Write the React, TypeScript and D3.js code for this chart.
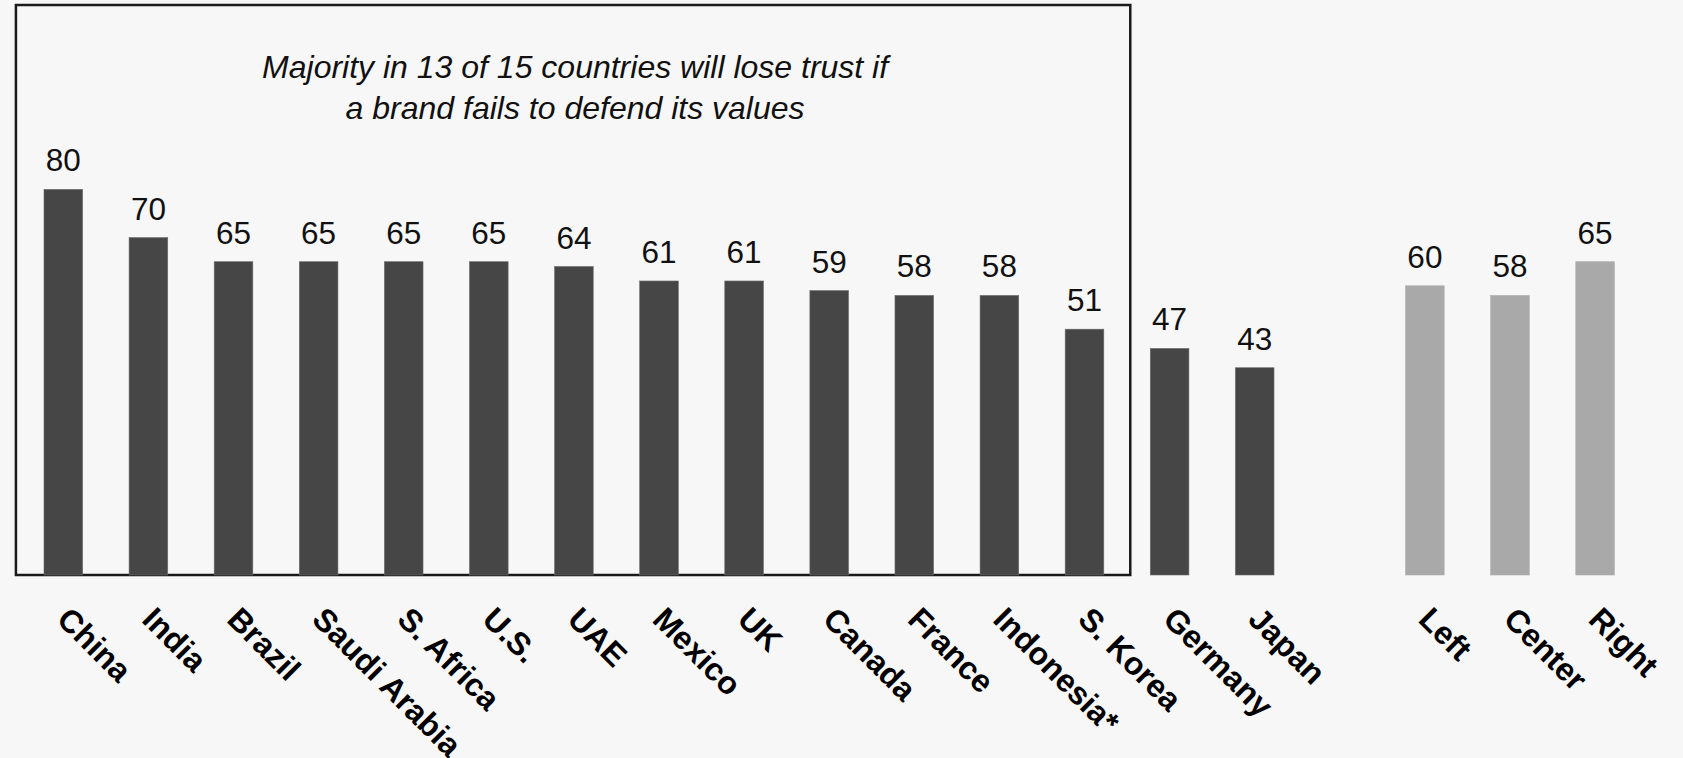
import React from "react";
import * as d3 from "d3";

const countries = ["China", "India", "Brazil", "Saudi Arabia", "S. Africa", "U.S.", "UAE", "Mexico", "UK", "Canada", "France", "Indonesia*", "S. Korea", "Germany", "Japan"];
const countryValues = [80, 70, 65, 65, 65, 65, 64, 61, 61, 59, 58, 58, 51, 47, 43];
const politics = ["Left", "Center", "Right"];
const politicsValues = [60, 58, 65];
const titleLines = ["Majority in 13 of 15 countries will lose trust if", "a brand fails to defend its values"];

const W = 1683;
const H = 758;
const FONT = "'Liberation Sans', Arial, Helvetica, sans-serif";

export default function App() {
  const slots = [...countries, "__gap__", ...politics];
  const x = d3.scaleBand<string>().domain(slots).range([44, 1614.4]).paddingInner(0.546).paddingOuter(0);
  const baseY = 575;
  const y = d3.scaleLinear().domain([0, 80]).range([baseY, baseY - 80 * 4.82]);

  const bars = [
    ...countries.map((c, i) => ({ name: c, value: countryValues[i], fill: "#464646" })),
    ...politics.map((c, i) => ({ name: c, value: politicsValues[i], fill: "#a9a9a9" })),
  ];
  const step = x.step();
  const bw = x.bandwidth();
  const boxLeft = (x("China") as number) - step * 0.33;
  const boxRight = (x("Germany") as number) - step * 0.235;
  const boxTop = 5;
  const boxCenter = (boxLeft + boxRight) / 2;

  return (
    <svg width={W} height={H} style={{ position: "absolute", left: 0, top: 0, background: "#f7f7f7" }}>
      <rect x={0} y={0} width={W} height={H} fill="#f7f7f7" />
      <rect x={boxLeft} y={boxTop} width={boxRight - boxLeft} height={baseY - boxTop} fill="none" stroke="#1a1a1a" strokeWidth={2.5} />
      {titleLines.map((t, i) => (
        <text key={t} x={boxCenter + 2} y={78 + i * 41} textAnchor="middle" fontFamily={FONT} fontStyle="italic" fontSize={32} fill="#111">
          {t}
        </text>
      ))}
      {bars.map((b) => {
        const bx = x(b.name) as number;
        const cx = bx + bw / 2;
        return (
          <g key={b.name}>
            <rect x={bx} y={y(b.value)} width={bw} height={baseY - y(b.value)} fill={b.fill} stroke={b.fill === "#464646" ? "#6a6a6a" : "#b0b0b0"} strokeWidth={0.6} />
            <text x={cx} y={y(b.value) - 18} textAnchor="middle" fontFamily={FONT} fontSize={31.5} fill="#111">
              {b.value}
            </text>
            <text transform={`translate(${cx - 8},${621}) rotate(45)`} fontFamily={FONT} fontWeight="bold" fontSize={32} fill="#000">
              {b.name}
            </text>
          </g>
        );
      })}
    </svg>
  );
}
